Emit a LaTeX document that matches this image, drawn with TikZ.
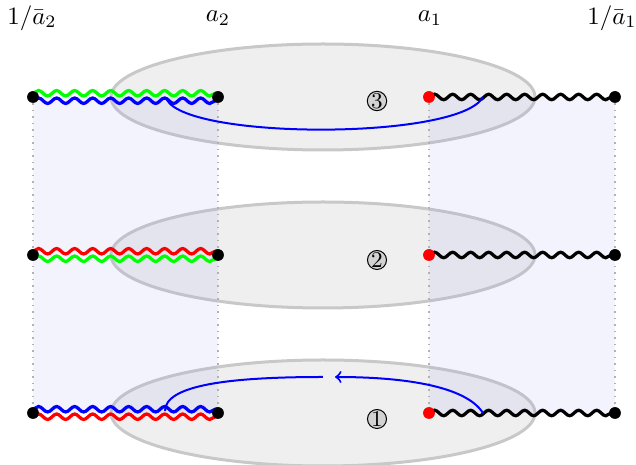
\documentclass[tikz,border=0pt]{standalone}
\usetikzlibrary{decorations.pathmorphing}
\definecolor{ellfill}{RGB}{239,239,239}
\definecolor{elldraw}{RGB}{200,200,200}
\definecolor{bandfill}{RGB}{159,159,239}
\definecolor{numfill}{RGB}{210,210,210}
\begin{document}
\begin{tikzpicture}[x=0.4pt,y=-0.4pt,
  dot/.style={circle,fill=black,inner sep=0pt,minimum size=4.6pt},
  rdot/.style={dot,fill=red},
  ell/.style={fill=ellfill,draw=elldraw,line width=1.2pt},
  band/.style={fill=bandfill,fill opacity=0.125},
  guide/.style={draw=black!30,dotted,line width=0.6pt},
  wave/.style={line width=1.3pt,decorate,decoration={snake,amplitude=1.1pt,segment length=7.2pt}},
  loop/.style={draw=blue,line width=0.8pt},
  num/.style={circle,draw=black,fill=numfill,line width=0.4pt,inner sep=0pt,minimum size=7.6pt,font=\small},
  lab/.style={inner sep=0pt}]
\useasboundingbox (0,0) rectangle (636,465);
% positions
\foreach \r/\y in {3/97,2/255,1/413}{
  \coordinate (pL\r) at (33,\y);
  \coordinate (pB\r) at (218,\y);
  \coordinate (pA\r) at (429,\y);
  \coordinate (pR\r) at (615,\y);
}
% ellipses
\draw[ell] (323,97) ellipse [x radius=212, y radius=53];
\draw[ell] (323,255) ellipse [x radius=212, y radius=53];
\draw[ell] (323,413) ellipse [x radius=212, y radius=53];
% bands
\fill[band] (pL3) rectangle (pB1);
\fill[band] (pA3) rectangle (pR1);
\draw[guide] (pL3) -- (pL1);
\draw[guide] (pB3) -- (pB1);
\draw[guide] (pA3) -- (pA1);
\draw[guide] (pR3) -- (pR1);
% nodes
\foreach \r in {3,2,1}{
  \node[dot] (L\r) at (pL\r) {};
  \node[dot] (B\r) at (pB\r) {};
  \node[rdot] (A\r) at (pA\r) {};
  \node[dot] (R\r) at (pR\r) {};
}
% waves
\draw[wave,green] ([yshift=1.5pt]L3.center) -- ([yshift=1.5pt]B3.center);
\draw[wave,blue] ([yshift=-1.5pt]L3.center) -- ([yshift=-1.5pt]B3.center);
\draw[wave,red] ([yshift=1.5pt]L2.center) -- ([yshift=1.5pt]B2.center);
\draw[wave,green] ([yshift=-1.5pt]L2.center) -- ([yshift=-1.5pt]B2.center);
\draw[wave,blue] ([yshift=1.5pt]L1.center) -- ([yshift=1.5pt]B1.center);
\draw[wave,red] ([yshift=-1.5pt]L1.center) -- ([yshift=-1.5pt]B1.center);
\foreach \r in {3,2,1}{
  \draw[wave,black] (A\r.center) -- (R\r.center);
}
% redraw dots on top
\foreach \r in {3,2,1}{
  \node[dot] at (L\r) {};
  \node[dot] at (B\r) {};
  \node[rdot] at (A\r) {};
  \node[dot] at (R\r) {};
}
% blue loops
\coordinate (c3s) at (167,100);
\coordinate (c3e) at (483,97);
\draw[loop] (c3s) .. controls (190,140) and (460,140) .. (c3e);
\coordinate (c1s) at (483,413);
\coordinate (c1m) at (335,377);
\coordinate (c1n) at (323,377);
\coordinate (c1e) at (165,411);
\draw[loop,->] (c1s) .. controls (465,385) and (400,377) .. (c1m);
\draw[loop] (c1n) .. controls (230,377) and (165,385) .. (c1e);
% numbers
\node[num] (n3) at (377,101) {3};
\node[num] (n2) at (377,260) {2};
\node[num] (n1) at (377,419) {1};
% labels
\node[lab] (t1) at (32,18) {$1/\bar a_2$};
\node[lab] (t2) at (218,18) {$a_2$};
\node[lab] (t3) at (430,18) {$a_1$};
\node[lab] (t4) at (612,18) {$1/\bar a_1$};
\end{tikzpicture}
\end{document}
